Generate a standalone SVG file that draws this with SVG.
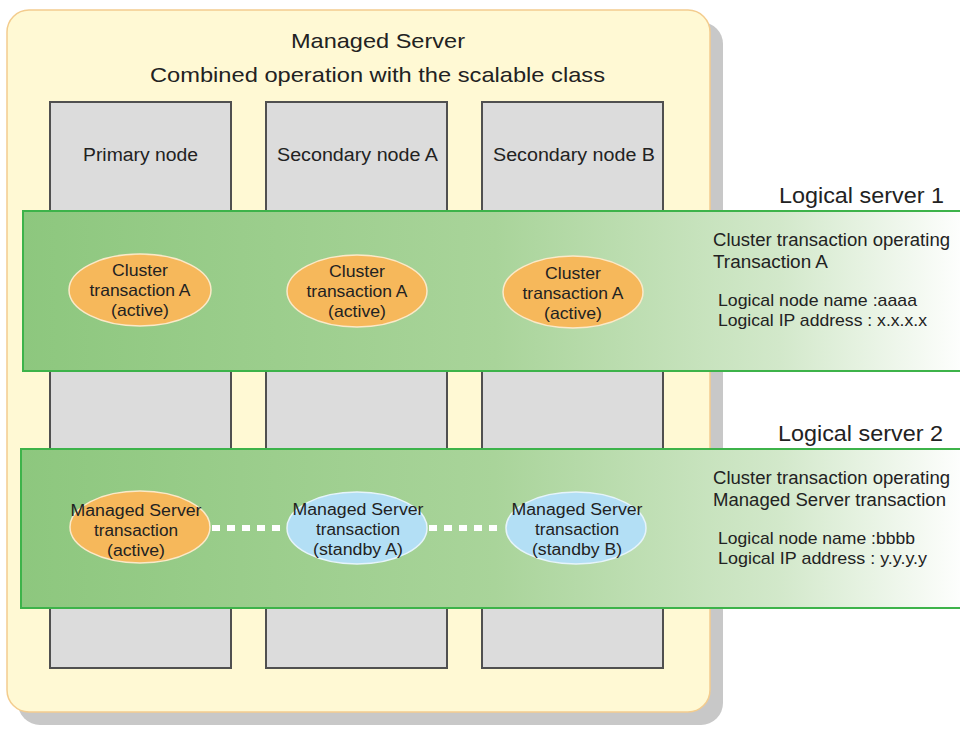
<svg xmlns="http://www.w3.org/2000/svg" width="960" height="733" viewBox="0 0 960 733">
<defs>
<linearGradient id="band" x1="0" y1="0" x2="1" y2="0">
<stop offset="0" stop-color="#8DC77E"/>
<stop offset="0.5" stop-color="#A9D49A"/>
<stop offset="0.8" stop-color="#D2E8CA"/>
<stop offset="1" stop-color="#FFFFFF"/>
</linearGradient>
<style>
text{font-family:"Liberation Sans",Arial,sans-serif;fill:#222}
.title{font-size:21px;text-anchor:middle}
.col{fill:#DCDCDC;stroke:#505050;stroke-width:2}
.clabel{font-size:18px;text-anchor:middle}
.band{fill:url(#band);stroke:#3DB34A;stroke-width:2}
.ls{font-size:22px;text-anchor:end}
.act{fill:#F6B85B;stroke:#FBE9C8;stroke-width:1.5}
.stb{fill:#B3DFF5;stroke:#E6F4FB;stroke-width:1.5}
.et{font-size:16.5px;text-anchor:middle}
.et2{font-size:16px;text-anchor:middle}
.info{font-size:17.5px}
.info2{font-size:17px}
.link{stroke:#FFFFFF;stroke-width:6;stroke-dasharray:8 7;fill:none}
</style>
</defs>
<g id="managed-server">
<rect x="18" y="22" width="705" height="703" rx="22" fill="#C8C8C8"/>
<rect x="7" y="10" width="703" height="702" rx="22" fill="#FFF9D4" stroke="#F3CC8E" stroke-width="1.5"/>
<text class="title" x="378" y="48" textLength="174" lengthAdjust="spacingAndGlyphs">Managed Server</text>
<text class="title" x="377.5" y="82" textLength="455" lengthAdjust="spacingAndGlyphs">Combined operation with the scalable class</text>
</g>
<g id="primary-node">
<rect class="col" x="50" y="102" width="181" height="566"/>
<text class="clabel" x="140.5" y="161" textLength="115" lengthAdjust="spacingAndGlyphs">Primary node</text>
</g>
<g id="secondary-node-a">
<rect class="col" x="266" y="102" width="181" height="566"/>
<text class="clabel" x="357.5" y="161" textLength="161" lengthAdjust="spacingAndGlyphs">Secondary node A</text>
</g>
<g id="secondary-node-b">
<rect class="col" x="482" y="102" width="181" height="566"/>
<text class="clabel" x="574" y="161" textLength="162" lengthAdjust="spacingAndGlyphs">Secondary node B</text>
</g>
<g id="logical-server-1">
<text class="ls" x="944" y="203" textLength="165" lengthAdjust="spacingAndGlyphs">Logical server 1</text>
<rect class="band" x="23" y="211" width="945" height="160"/>
<text class="info" x="713" y="246" textLength="237" lengthAdjust="spacingAndGlyphs">Cluster transaction operating</text>
<text class="info" x="713" y="268" textLength="115" lengthAdjust="spacingAndGlyphs">Transaction A</text>
<text class="info2" x="718" y="306" textLength="199" lengthAdjust="spacingAndGlyphs">Logical node name :aaaa</text>
<text class="info2" x="718" y="326" textLength="209" lengthAdjust="spacingAndGlyphs">Logical IP address : x.x.x.x</text>
</g>
<g id="logical-server-2">
<text class="ls" x="943" y="441" textLength="165" lengthAdjust="spacingAndGlyphs">Logical server 2</text>
<rect class="band" x="21" y="449" width="947" height="159"/>
<text class="info" x="713" y="484" textLength="237" lengthAdjust="spacingAndGlyphs">Cluster transaction operating</text>
<text class="info" x="713" y="506" textLength="233" lengthAdjust="spacingAndGlyphs">Managed Server transaction</text>
<text class="info2" x="718" y="544" textLength="197" lengthAdjust="spacingAndGlyphs">Logical node name :bbbb</text>
<text class="info2" x="718" y="564" textLength="209" lengthAdjust="spacingAndGlyphs">Logical IP address : y.y.y.y</text>
</g>
<g id="connectors">
<line class="link" x1="212" y1="528" x2="287" y2="528"/>
<line class="link" x1="429" y1="528" x2="503" y2="528"/>
</g>
<g id="cluster-a-primary">
<ellipse class="act" cx="140" cy="290" rx="71" ry="36"/>
<text class="et" x="140" y="276" textLength="56" lengthAdjust="spacingAndGlyphs">Cluster</text>
<text class="et" x="140" y="296" textLength="101" lengthAdjust="spacingAndGlyphs">transaction A</text>
<text class="et" x="140" y="316" textLength="58" lengthAdjust="spacingAndGlyphs">(active)</text>
</g>
<g id="cluster-a-secondary-a">
<ellipse class="act" cx="357" cy="291" rx="70" ry="36"/>
<text class="et" x="357" y="277" textLength="56" lengthAdjust="spacingAndGlyphs">Cluster</text>
<text class="et" x="357" y="297" textLength="101" lengthAdjust="spacingAndGlyphs">transaction A</text>
<text class="et" x="357" y="317" textLength="58" lengthAdjust="spacingAndGlyphs">(active)</text>
</g>
<g id="cluster-a-secondary-b">
<ellipse class="act" cx="573" cy="292" rx="70" ry="36"/>
<text class="et" x="573" y="279" textLength="56" lengthAdjust="spacingAndGlyphs">Cluster</text>
<text class="et" x="573" y="299" textLength="101" lengthAdjust="spacingAndGlyphs">transaction A</text>
<text class="et" x="573" y="319" textLength="58" lengthAdjust="spacingAndGlyphs">(active)</text>
</g>
<g id="ms-active">
<ellipse class="act" cx="140" cy="527" rx="70" ry="36"/>
<text class="et2" x="136" y="516" textLength="131" lengthAdjust="spacingAndGlyphs">Managed Server</text>
<text class="et2" x="136" y="536" textLength="84" lengthAdjust="spacingAndGlyphs">transaction</text>
<text class="et2" x="136" y="556" textLength="58" lengthAdjust="spacingAndGlyphs">(active)</text>
</g>
<g id="ms-standby-a">
<ellipse class="stb" cx="357" cy="528" rx="70" ry="36"/>
<text class="et2" x="358" y="515" textLength="131" lengthAdjust="spacingAndGlyphs">Managed Server</text>
<text class="et2" x="358" y="535" textLength="84" lengthAdjust="spacingAndGlyphs">transaction</text>
<text class="et2" x="358" y="555" textLength="90" lengthAdjust="spacingAndGlyphs">(standby A)</text>
</g>
<g id="ms-standby-b">
<ellipse class="stb" cx="576" cy="528" rx="70" ry="36"/>
<text class="et2" x="577" y="515" textLength="131" lengthAdjust="spacingAndGlyphs">Managed Server</text>
<text class="et2" x="577" y="535" textLength="84" lengthAdjust="spacingAndGlyphs">transaction</text>
<text class="et2" x="577" y="555" textLength="90" lengthAdjust="spacingAndGlyphs">(standby B)</text>
</g>
</svg>
